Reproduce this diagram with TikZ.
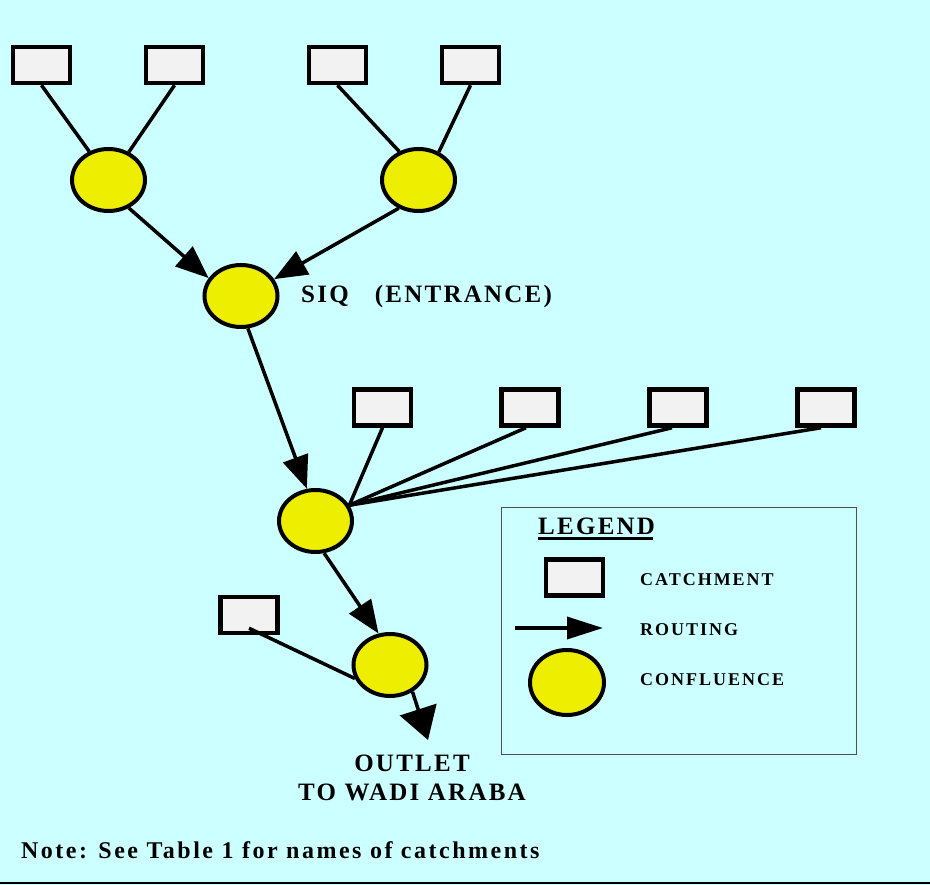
\documentclass[tikz,border=0pt]{standalone}
\usepackage{fontspec}
\setmainfont{Liberation Serif}
\newfontfamily\lblfont{Liberation Serif}[LetterSpace=9]
\newfontfamily\legfont{Liberation Serif}[LetterSpace=11]
\newfontfamily\notefont{Liberation Serif}[LetterSpace=10.4]
\usetikzlibrary{arrows.meta,shapes.geometric}
\definecolor{bg}{HTML}{CCFFFF}
\definecolor{boxfill}{HTML}{F2F2F2}
\definecolor{conf}{HTML}{EEEE00}
\definecolor{legframe}{HTML}{505050}
\begin{document}
\begin{tikzpicture}[x=1pt,y=-1pt,
  catch/.style={draw=black, line width=4.5pt, fill=boxfill, minimum width=57pt, minimum height=36pt, inner sep=0pt},
  confl/.style={ellipse, draw=black, line width=4pt, fill=conf, minimum width=73pt, minimum height=62pt, inner sep=0pt},
  link/.style={line width=3.5pt},
  route/.style={line width=3.5pt, -{Triangle[length=33pt,width=26pt]}},
  lbl/.style={font=\lblfont\bfseries\fontsize{25}{29}\selectfont, inner sep=0pt, text=black},
  legtxt/.style={font=\legfont\bfseries\fontsize{18}{21}\selectfont, inner sep=0pt, text=black, anchor=base west},
  notetxt/.style={font=\notefont\bfseries\fontsize{24}{28}\selectfont, inner sep=0pt, text=black, anchor=base west}
]
\fill[bg] (0,0) rectangle (930,885);
\useasboundingbox (0,0) rectangle (930,885);
\draw[line width=1.5pt] (0,883) -- (930,883);

% catchments
\node[catch] (b1) at (41.5,65) {};
\node[catch] (b2) at (174.5,65) {};
\node[catch] (b3) at (337.5,65) {};
\node[catch] (b4) at (470.5,65) {};
\node[catch] (b5) at (382.5,407.5) {};
\node[catch] (b6) at (530,407.5) {};
\node[catch] (b7) at (678,407.5) {};
\node[catch] (b8) at (826,407.5) {};
\node[catch] (b9) at (249,615) {};

% confluences
\node[confl] (c1) at (108.5,180) {};
\node[confl] (c2) at (418.5,180) {};
\node[confl] (siq) at (241,296) {};
\node[confl] (mid) at (315.5,521) {};
\node[confl] (bot) at (390,665) {};

% catchment links
\draw[link] (b1.south) -- (c1.124);
\draw[link] (b2.south) -- (c1.54);
\draw[link] (b3.south) -- (c2.124);
\draw[link] (b4.south) -- (c2.54);
\draw[link] (b5.south) -- (mid.25);
\draw[link] ([xshift=-4pt]b6.south) -- (mid.25);
\draw[link] ([xshift=-6pt]b7.south) -- (mid.25);
\draw[link] ([xshift=-5pt]b8.south) -- (mid.25);
\draw[link] ([yshift=7pt]b9.south) -- (bot.201);

% routing
\draw[route] (c1.-54) -- (siq.151);
\draw[route] (c2.235) -- (siq.27);
\draw[route] (siq.-78) -- (mid.105);
\draw[route] (mid.-75) -- (bot.110);
\coordinate (outlet) at (428,740);
\draw[line width=3.5pt, -{Triangle[length=32pt,width=38pt]}] (bot.-50) -- (outlet);

% labels
\node[lbl, anchor=base west] (siqlabel) at (301,303) {SIQ\hspace{26pt}(ENTRANCE)};
\node[lbl, align=center, anchor=base] (outletlabel) at (412,800) {OUTLET\\TO WADI ARABA};

% legend
\node[draw=legframe, line width=1.5pt, minimum width=355pt, minimum height=247pt, inner sep=0pt] (legend) at (679,631) {};
\node[lbl, anchor=base west] (legtitle) at (538,534) {LEGEND};
\draw[line width=2.5pt] ([yshift=-4.5pt]legtitle.base west) -- ([yshift=-4.5pt,xshift=-2pt]legtitle.base east);
\node[catch] (legcatch) at (574.5,577.5) {};
\node[legtxt] (legcatchtxt) at (640,585) {CATCHMENT};
\coordinate (legA) at (515,628);
\coordinate (legB) at (603,628);
\draw[line width=3.5pt, -{Triangle[length=36pt,width=22pt]}] (legA) -- (legB);
\node[legtxt] (legroutetxt) at (640,635) {ROUTING};
\node[confl, minimum width=74pt, minimum height=65pt] (legconf) at (567,682.5) {};
\node[legtxt] (legconftxt) at (640,685) {CONFLUENCE};

% note
\node[notetxt] (note) at (21,858) {Note: See Table 1 for names of catchments};
\end{tikzpicture}
\end{document}
